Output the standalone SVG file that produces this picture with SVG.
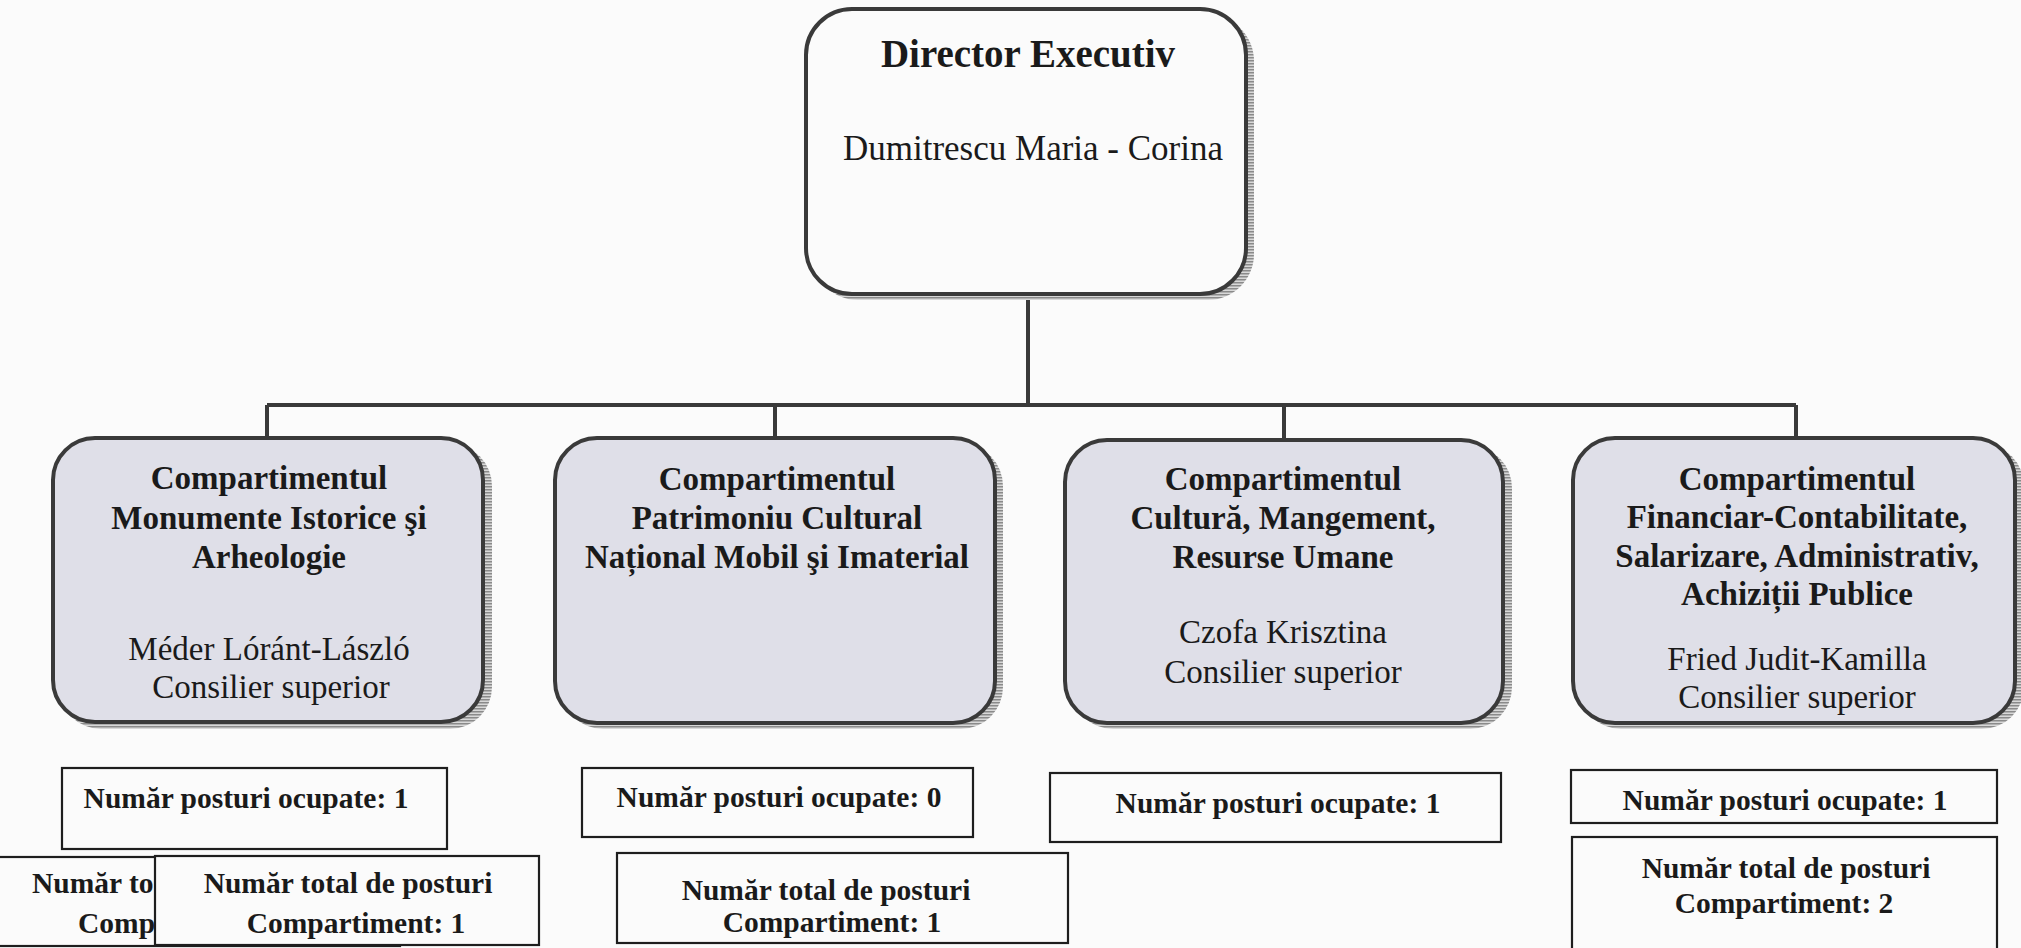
<svg xmlns="http://www.w3.org/2000/svg" width="2021" height="948" viewBox="0 0 2021 948">
<defs>
<pattern id="hatch" width="4" height="3" patternUnits="userSpaceOnUse">
<rect width="4" height="3" fill="#d8d8d8"/>
<rect width="4" height="1.5" fill="#8a8a8a"/>
</pattern>
<style>
.b{font-family:"Liberation Serif","Times New Roman",serif;font-weight:bold;fill:#1a1a1a;text-anchor:middle}
.r{font-family:"Liberation Serif","Times New Roman",serif;fill:#1a1a1a;text-anchor:middle}
.s{text-anchor:start}
.t33{font-size:33px}
.t29{font-size:29.5px}
.shadow{fill:url(#hatch)}
.dept{fill:#dfdfe8;stroke:#3a3a3a;stroke-width:4}
.dir{fill:#fbfbfb;stroke:#3a3a3a;stroke-width:4}
.cnt{fill:#fbfbfb;stroke:#1e1e1e;stroke-width:2.2}
.conn{fill:none;stroke:#3a3a3a;stroke-width:4}
</style>
</defs>
<rect width="2021" height="948" fill="#fbfbfb"/>

<g id="connectors">
<path class="conn" d="M1028 295 V405 M267 405 H1796 M267 405 V438 M775 405 V438 M1284 405 V440 M1796 405 V438"/>
</g>

<g id="director">
<rect class="shadow" x="812" y="15" width="442" height="285" rx="46"/>
<rect class="dir" x="806" y="9" width="440" height="285" rx="46"/>
<text class="b" x="1028" y="67" font-size="39">Director Executiv</text>
<text class="r" x="1033" y="160" font-size="35">Dumitrescu Maria - Corina</text>
</g>

<g id="dept1">
<rect class="shadow" x="59" y="444" width="433" height="285" rx="42"/>
<rect class="dept" x="53" y="438" width="430" height="284" rx="42"/>
<text class="b t33" x="269" y="489">Compartimentul</text>
<text class="b t33" x="269" y="529">Monumente Istorice şi</text>
<text class="b t33" x="269" y="568">Arheologie</text>
<text class="r t33" x="269" y="660">Méder Lóránt-László</text>
<text class="r t33" x="271" y="698">Consilier superior</text>
</g>

<g id="dept2">
<rect class="shadow" x="561" y="444" width="442" height="285" rx="42"/>
<rect class="dept" x="555" y="438" width="440" height="285" rx="42"/>
<text class="b t33" x="777" y="490">Compartimentul</text>
<text class="b t33" x="777" y="529">Patrimoniu Cultural</text>
<text class="b t33" x="777" y="568">Național Mobil şi Imaterial</text>
</g>

<g id="dept3">
<rect class="shadow" x="1071" y="446" width="441" height="283" rx="42"/>
<rect class="dept" x="1065" y="440" width="438" height="283" rx="42"/>
<text class="b t33" x="1283" y="490">Compartimentul</text>
<text class="b t33" x="1283" y="529">Cultură, Mangement,</text>
<text class="b t33" x="1283" y="568">Resurse Umane</text>
<text class="r t33" x="1283" y="643">Czofa Krisztina</text>
<text class="r t33" x="1283" y="683">Consilier superior</text>
</g>

<g id="dept4">
<rect class="shadow" x="1579" y="444" width="445" height="285" rx="42"/>
<rect class="dept" x="1573" y="438" width="442" height="285" rx="42"/>
<text class="b t33" x="1797" y="490">Compartimentul</text>
<text class="b t33" x="1797" y="528">Financiar-Contabilitate,</text>
<text class="b t33" x="1797" y="567">Salarizare, Administrativ,</text>
<text class="b t33" x="1797" y="605">Achiziții Publice</text>
<text class="r t33" x="1797" y="670">Fried Judit-Kamilla</text>
<text class="r t33" x="1797" y="708">Consilier superior</text>
</g>

<g id="ocupate1">
<rect class="cnt" x="62" y="768" width="385" height="81"/>
<text class="b t29" x="246" y="808">Număr posturi ocupate: 1</text>
</g>

<g id="total1-hidden">
<rect class="cnt" x="-10" y="857" width="410" height="89"/>
<text class="b t29 s" x="32" y="893">Număr to</text>
<text class="b t29 s" x="78" y="933">Comp</text>
</g>

<g id="total1">
<rect class="cnt" x="155" y="856" width="384" height="89"/>
<text class="b t29" x="348" y="893">Număr total de posturi</text>
<text class="b t29" x="356" y="933">Compartiment: 1</text>
</g>

<g id="ocupate2">
<rect class="cnt" x="582" y="768" width="391" height="69"/>
<text class="b t29" x="779" y="807">Număr posturi ocupate: 0</text>
</g>

<g id="total2">
<rect class="cnt" x="617" y="853" width="451" height="90"/>
<text class="b t29" x="826" y="900">Număr total de posturi</text>
<text class="b t29" x="832" y="932">Compartiment: 1</text>
</g>

<g id="ocupate3">
<rect class="cnt" x="1050" y="773" width="451" height="69"/>
<text class="b t29" x="1278" y="813">Număr posturi ocupate: 1</text>
</g>

<g id="ocupate4">
<rect class="cnt" x="1571" y="770" width="426" height="53"/>
<text class="b t29" x="1785" y="810">Număr posturi ocupate: 1</text>
</g>

<g id="total4">
<rect class="cnt" x="1572" y="837" width="425" height="125"/>
<text class="b t29" x="1786" y="878">Număr total de posturi</text>
<text class="b t29" x="1784" y="913">Compartiment: 2</text>
</g>
</svg>
